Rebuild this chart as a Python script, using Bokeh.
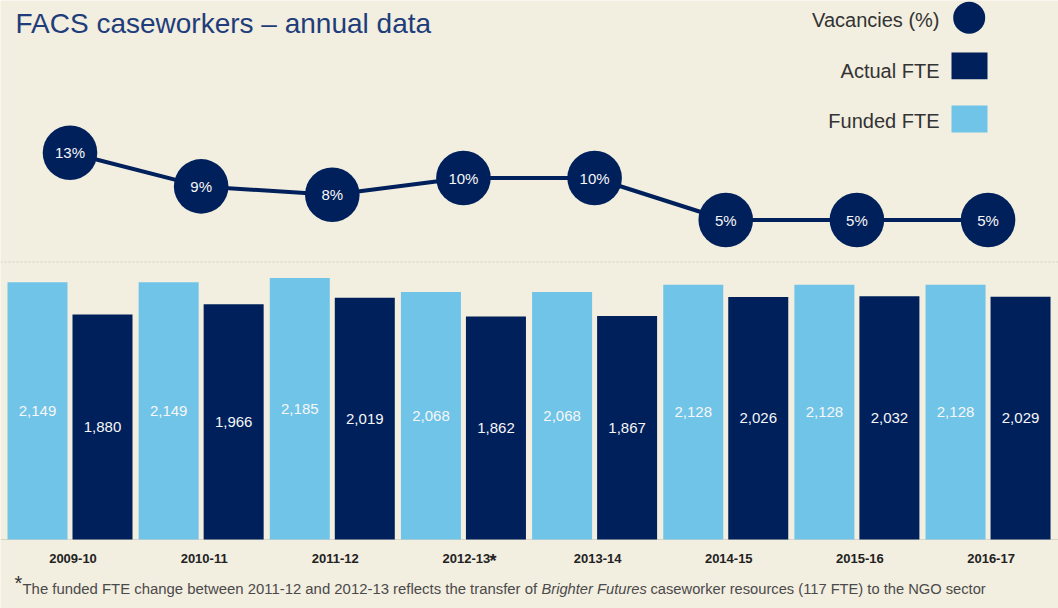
from bokeh.plotting import figure
from bokeh.models import Range1d, Label, ColumnDataSource
from bokeh.transform import dodge
from bokeh.core.properties import value
from bokeh.embed import file_html
from bokeh.resources import INLINE

# ---------------- data ----------------
years = ["2009-10", "2010-11", "2011-12", "2012-13*", "2013-14", "2014-15", "2015-16", "2016-17"]
funded_fte = [2149, 2149, 2185, 2068, 2068, 2128, 2128, 2128]
actual_fte = [1880, 1966, 2019, 1862, 1867, 2026, 2032, 2029]
vacancies = [13, 9, 8, 10, 10, 5, 5, 5]

# ---------------- style / layout ----------------
W, H = 1058, 608
NAVY = "#00205b"
SKY = "#70c4e8"
BG = "#f2eee0"
FONT = "Liberation Sans"

PITCH = 131.15      # px per category
X0 = 69.5           # px of first category centre
BAR_ZERO = 539.0    # px of zero FTE
BAR_SCALE = 0.1197  # px per FTE
VAC_ZERO = 261.5    # px of 0 %
VAC_SCALE = 8.4     # px per %
OFF = 32.5 / PITCH
BW = 60 / PITCH

idx = list(range(len(years)))
src = ColumnDataSource(dict(
    idx=idx,
    year=[y.rstrip("*") for y in years],
    funded=funded_fte,
    actual=actual_fte,
    funded_mid=[v / 2 for v in funded_fte],
    actual_mid=[v / 2 for v in actual_fte],
    funded_lbl=[f"{v:,}" for v in funded_fte],
    actual_lbl=[f"{v:,}" for v in actual_fte],
    vac=vacancies,
    vac_lbl=[f"{v}%" for v in vacancies],
))
star_src = ColumnDataSource(dict(idx=[i for i, y in enumerate(years) if y.endswith("*")]))

p = figure(width=W, height=H, output_backend="svg", toolbar_location=None,
           x_range=Range1d(-X0 / PITCH, (W - X0) / PITCH),
           y_range=Range1d(-(H - BAR_ZERO) / BAR_SCALE, BAR_ZERO / BAR_SCALE),
           x_axis_location=None, y_axis_location=None,
           min_border=0, background_fill_color=BG, border_fill_color=BG,
           outline_line_color=None)
p.grid.visible = False
p.extra_y_ranges = {"vac": Range1d(-(H - VAC_ZERO) / VAC_SCALE, VAC_ZERO / VAC_SCALE),
                    "px": Range1d(H, 0)}
p.extra_x_ranges = {"px": Range1d(0, W)}

# dashed separator at 0 % and faint baseline
p.segment(x0=p.x_range.start, x1=p.x_range.end, y0=0, y1=0, y_range_name="vac",
          line_color="#d4d0c2", line_width=1, line_dash="2 2")
p.segment(x0=p.x_range.start, x1=p.x_range.end, y0=0, y1=0,
          line_color="#d8d4c6", line_width=1)

# bars
p.vbar(x=dodge("idx", -OFF, range=p.x_range), top="funded", width=BW, source=src,
       fill_color=SKY, line_color=None)
p.vbar(x=dodge("idx", OFF, range=p.x_range), top="actual", width=BW, source=src,
       fill_color=NAVY, line_color=None)
p.text(x=dodge("idx", -OFF, range=p.x_range), y="funded_mid", text="funded_lbl", source=src,
       text_align="center", text_baseline="middle", text_color="#f7f7f7",
       text_font=value(FONT), text_font_size=value("15px"))
p.text(x=dodge("idx", OFF, range=p.x_range), y="actual_mid", text="actual_lbl", source=src,
       text_align="center", text_baseline="middle", text_color="#f7f7f7",
       text_font=value(FONT), text_font_size=value("15px"))

# vacancies line
p.line(x="idx", y="vac", source=src, y_range_name="vac", line_color=NAVY, line_width=4)
p.scatter(x="idx", y="vac", source=src, y_range_name="vac", size=54.6,
          fill_color=NAVY, line_color=None)
p.text(x="idx", y="vac", text="vac_lbl", source=src, y_range_name="vac",
       text_align="center", text_baseline="middle", text_color="#f7f7f7",
       text_font=value(FONT), text_font_size=value("15px"))

# category labels
p.text(x="idx", y=558, text="year", source=src, y_range_name="px", x_offset=3,
       text_align="center", text_baseline="middle", text_color="#222222",
       text_font=value(FONT), text_font_size=value("13px"), text_font_style="bold")
p.text(x="idx", y=560, text=value("*"), source=star_src, y_range_name="px", x_offset=26,
       text_align="left", text_baseline="middle", text_color="#222222",
       text_font=value(FONT), text_font_size=value("18px"), text_font_style="bold")

# legend (text left, key right)
p.scatter(x=[968.7], y=[17.3], size=32, x_range_name="px", y_range_name="px",
          fill_color=NAVY, line_color=None)
p.quad(left=[951], right=[987], top=[52], bottom=[78.7], x_range_name="px", y_range_name="px",
       fill_color=NAVY, line_color=None)
p.quad(left=[951], right=[987], top=[105], bottom=[132], x_range_name="px", y_range_name="px",
       fill_color=SKY, line_color=None)
for txt, yc in [("Vacancies (%)", 19.5), ("Actual FTE", 70), ("Funded FTE", 120)]:
    p.add_layout(Label(x=939, y=yc, text=txt, x_range_name="px", y_range_name="px",
                       text_align="right", text_baseline="middle",
                       text_font=FONT, text_font_size="20px", text_color="#333333"))

# title
p.add_layout(Label(x=15, y=23, text="FACS caseworkers \u2013 annual data",
                   x_range_name="px", y_range_name="px", text_align="left",
                   text_baseline="middle", text_font=FONT, text_font_size="28px",
                   text_color="#1f3d7a"))

# footnote
p.add_layout(Label(x=14, y=582, text="*", x_range_name="px", y_range_name="px",
                   text_align="left", text_baseline="middle", text_font=FONT,
                   text_font_size="20px", text_color="#333333"))
for txt, xs, style, fs in [
    ("The funded FTE change between 2011-12 and 2012-13 reflects the transfer of", 22, "normal", "14.9px"),
    ("Brighter Futures", 541, "italic", "14.7px"),
    ("caseworker resources (117 FTE) to the NGO sector", 650, "normal", "14.7px"),
]:
    p.add_layout(Label(x=xs, y=588, text=txt, x_range_name="px", y_range_name="px",
                       text_align="left", text_baseline="middle", text_font=FONT,
                       text_font_size=fs, text_font_style=style, text_color="#4a4a4a"))

open("out.html", "w").write(file_html(p, INLINE))
